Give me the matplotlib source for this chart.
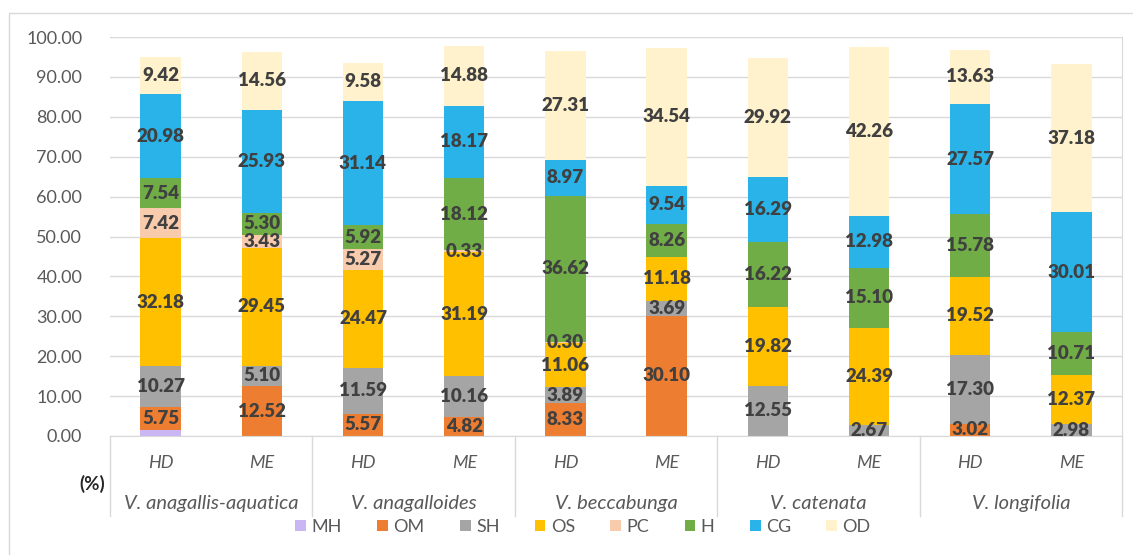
import matplotlib.pyplot as plt
from matplotlib.patches import Rectangle
import numpy as np

plt.rcParams['font.family'] = ['Lato', 'DejaVu Sans']

species = ["V. anagallis-aquatica", "V. anagalloides", "V. beccabunga", "V. catenata", "V. longifolia"]
methods = ["HD", "ME"]
classes = ["MH", "OM", "SH", "OS", "PC", "H", "CG", "OD"]
colors = ["#c9b6f2", "#ed7d31", "#a5a5a5", "#ffc000", "#f8cbad", "#70ad47", "#29b3e8", "#fff2cc"]

# one list per class, 10 bars (HD, ME for each species)
MH = [1.45, 0, 0, 0, 0, 0, 0, 0, 0, 0]
OM = [5.75, 12.52, 5.57, 4.82, 8.33, 30.10, 0, 0, 3.02, 0]
SH = [10.27, 5.10, 11.59, 10.16, 3.89, 3.69, 12.55, 2.67, 17.30, 2.98]
OS = [32.18, 29.45, 24.47, 31.19, 11.06, 11.18, 19.82, 24.39, 19.52, 12.37]
PC = [7.42, 3.43, 5.27, 0.33, 0.30, 0, 0, 0, 0, 0]
H = [7.54, 5.30, 5.92, 18.12, 36.62, 8.26, 16.22, 15.10, 15.78, 10.71]
CG = [20.98, 25.93, 31.14, 18.17, 8.97, 9.54, 16.29, 12.98, 27.57, 30.01]
OD = [9.42, 14.56, 9.58, 14.88, 27.31, 34.54, 29.92, 42.26, 13.63, 37.18]
series = [MH, OM, SH, OS, PC, H, CG, OD]

W, Hh = 1133, 555
fig = plt.figure(figsize=(W / 100, Hh / 100), dpi=100)
ax = fig.add_axes([110 / W, (Hh - 436) / Hh, 1012 / W, 399 / Hh])

x = np.arange(10)
bottom = np.zeros(10)
for name, vals, col in zip(classes, series, colors):
    vals = np.array(vals)
    ax.bar(x, vals, 0.4, bottom=bottom, color=col, label=name, zorder=2)
    if name != "MH":
        for xi, v, b in zip(x, vals, bottom):
            if v > 0:
                ax.text(xi, b + v / 2, f"{v:.2f}", ha="center", va="center",
                        fontsize=13.5, fontweight="heavy", color="#404040", zorder=3)
    bottom += vals

ax.set_xlim(-0.5, 9.5)
ax.set_ylim(0, 100)
ax.set_yticks(np.arange(0, 101, 10))
ax.set_yticklabels([f"{t:.2f}" for t in range(0, 101, 10)])
ax.tick_params(axis="y", length=0, labelsize=13, labelcolor="#595959", pad=20)
ax.set_xticks([])
ax.grid(axis="y", color="#d9d9d9", lw=1, zorder=0)
for s in ["left", "top"]:
    ax.spines[s].set_visible(False)
ax.spines["right"].set_color("#d9d9d9")
ax.spines["bottom"].set_color("#d9d9d9")

trans = ax.get_xaxis_transform()
for i in range(10):
    ax.text(i, -0.068, methods[i % 2], transform=trans, ha="center", va="center",
            fontsize=13, style="italic", color="#595959")
for g, sp in enumerate(species):
    ax.text(2 * g + 0.5, -0.168, sp, transform=trans, ha="center", va="center",
            fontsize=14.5, style="italic", color="#595959")
for xb in [-0.5, 1.5, 3.5, 5.5, 7.5, 9.5]:
    ax.plot([xb, xb], [0, -0.2], transform=trans, color="#d9d9d9", lw=1, clip_on=False)

fig.text(92 / W, 1 - 484 / Hh, "(%)", ha="center", va="center", fontsize=13.5,
         fontweight="bold", color="#262626")

fig.patches.append(Rectangle((9 / W, -0.1), 1.2, 1 - 13 / Hh + 0.1, transform=fig.transFigure,
                             fill=False, ec="#d9d9d9", lw=1))

fig.legend(loc="center", bbox_to_anchor=(583 / W, 1 - 527 / Hh), ncol=8, frameon=False,
           fontsize=13, handlelength=0.6, handleheight=0.6, handletextpad=0.3,
           columnspacing=1.95, labelcolor="#595959")

fig.savefig("out.png", dpi=100)
